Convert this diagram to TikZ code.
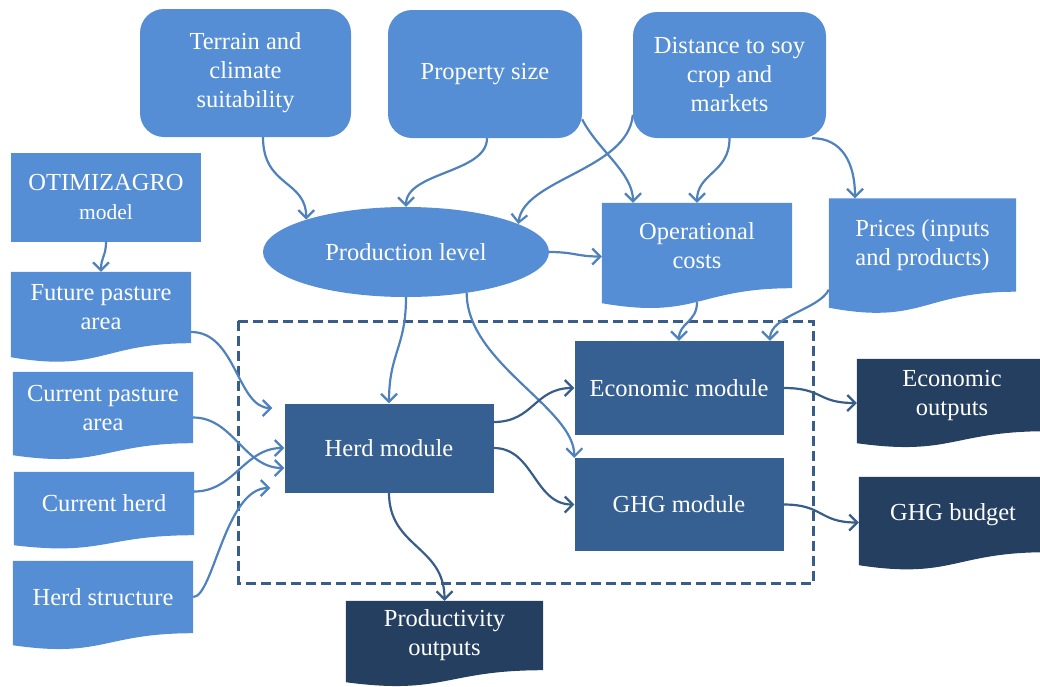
\documentclass[tikz,border=0pt]{standalone}
\usepackage{fontspec}
\setmainfont{Liberation Serif}
\usetikzlibrary{arrows.meta,calc,backgrounds,shapes.geometric}
\definecolor{lightblue}{HTML}{558ED5}
\definecolor{modblue}{HTML}{376092}
\definecolor{darkblue}{HTML}{243F60}
\definecolor{linkblue}{HTML}{4F81BD}
\definecolor{linkdark}{HTML}{385D8A}
% document shape: flat top, wavy bottom, drawn behind the text node
\newcommand{\docshape}[3]{%
  \begin{scope}[on background layer]
    \fill[#2] (#1.north west) -- (#1.north east) -- (#1.south east)
      .. controls (#1.south) and ($(#1.south)+(0,2.1*#3)$) .. ($(#1.south west)+(0,#3)$) -- cycle;
  \end{scope}}

\begin{document}
\begin{tikzpicture}[x=1pt,y=-1pt,
  >={Straight Barb[length=8pt,width=16pt]},
  every node/.style={text=white,align=center,inner sep=0pt,font=\fontsize{24.5}{29}\selectfont},
  topbox/.style={fill=lightblue,rounded corners=24pt},
  inbox/.style={fill=lightblue},
  docbox/.style={fill=none},
  modbox/.style={fill=modblue},
  link/.style={->,draw=linkblue,line width=2.2pt},
  linkd/.style={->,draw=linkdark,line width=2.2pt},
  corebox/.style={draw=linkdark,line width=3pt,dash pattern=on 10pt off 5pt}]
\useasboundingbox (0,0) rectangle (1040,686);
% \draw[help lines,step=50] (0,0) grid (1040,686);
\node (terrain) [topbox,minimum width=211pt,minimum height=128pt] at (245.5,73) {Terrain and\\climate\\suitability};
\node (propsize) [topbox,minimum width=194pt,minimum height=128pt] at (485,74) {Property size};
\node (distance) [topbox,minimum width=193pt,minimum height=126pt] at (729.5,75) {Distance to soy\\crop and\\markets};
%
\node (otimiz) [inbox,minimum width=190pt,minimum height=89pt] at (106,197) {OTIMIZAGRO\\{\fontsize{21.5}{25}\selectfont model}};
\node (future) [docbox,minimum width=180pt,minimum height=71pt] at (101,307.5) {Future pasture\\area};
\node (curpast) [docbox,minimum width=180pt,minimum height=71pt] at (103,407.5) {Current pasture\\area};
\node (curherd) [docbox,minimum width=180pt,minimum height=63pt] at (104,503.5) {Current herd};
\node (herdstruct) [docbox,minimum width=180pt,minimum height=72pt] at (103,597) {Herd structure};
%
\node (prodlevel) [ellipse,fill=lightblue,minimum width=286pt,minimum height=90pt] at (406,252) {Production level};
\node (opcost) [docbox,minimum width=190pt,minimum height=85pt] at (697,245.5) {Operational\\costs};
\node (prices) [docbox,minimum width=187pt,minimum height=93pt] at (922.5,245) {Prices (inputs\\and products)};
%
\node (herd) [modbox,minimum width=209pt,minimum height=89pt] at (389,448) {Herd module};
\node (econ) [modbox,minimum width=209pt,minimum height=94pt] at (679,388) {Economic module};
\node (ghg) [modbox,minimum width=209pt,minimum height=93pt] at (679,504.5) {GHG module};
%
\node (econout) [docbox,minimum width=190pt,minimum height=72pt] at (952,395) {Economic\\outputs};
\node (ghgbudget) [docbox,minimum width=188pt,minimum height=75pt] at (953,514.5) {GHG budget};
\node (prodout) [docbox,minimum width=197pt,minimum height=69pt] at (444.5,635.5) {Productivity\\outputs};
%
\docshape{future}{lightblue}{14}
\docshape{curpast}{lightblue}{12}
\docshape{curherd}{lightblue}{10}
\docshape{herdstruct}{lightblue}{12}
\docshape{opcost}{lightblue}{15}
\docshape{prices}{lightblue}{16}
\docshape{econout}{darkblue}{12}
\docshape{ghgbudget}{darkblue}{13}
\docshape{prodout}{darkblue}{12}
%
\draw[corebox] (238,321) rectangle (813.5,583);
\coordinate (herdin1) at ($(herd.west)+(-12,-40)$);
\coordinate (herdin2) at ($(herd.west)+(-14,40)$);
%
\draw[link] (otimiz.south) .. controls +(0,15) and +(0,-15) .. (future.north);
\draw[link] ([xshift=17.5pt]terrain.south) .. controls +(0,50) and +(0,-40) .. (prodlevel.162);
\draw[link] ([xshift=2pt]propsize.south) .. controls +(0,35) and +(0,-35) .. (prodlevel.north);
\draw[link] ([yshift=-40pt]distance.west) .. controls +(-5,55) and +(5,-45) .. (prodlevel.14);
\draw[link] (propsize.-25) .. controls +(15,30) and +(0,-30) .. ([xshift=-64pt]opcost.north);
\draw[link] (distance.south) .. controls +(0,35) and +(0,-30) .. (opcost.north);
\draw[link] ([xshift=-14pt]distance.south east) .. controls +(30,0) and +(0,-35) .. ([xshift=-67.5pt]prices.north);
\draw[link] (prodlevel.east) .. controls +(25,0) and +(-25,0) .. ([yshift=-11pt]opcost.west);
\draw[link] (prodlevel.south) .. controls +(0,50) and +(0,-50) .. (herd.north);
\draw[link] (prodlevel.-34) .. controls +(0,70) and +(0,-50) .. (ghg.north west);
\draw[link] ([yshift=-14pt]opcost.south) .. controls +(0,20) and +(0,-18) .. (econ.north);
\draw[link] ([yshift=2pt]prices.south west) .. controls +(-10,20) and +(0,-25) .. ([xshift=91pt]econ.north);
\draw[link] ([yshift=-24.5pt]future.east) .. controls +(45,0) and +(-35,0) .. (herdin1);
\draw[link] ([yshift=-10pt]curpast.east) .. controls +(40,0) and +(-40,0) .. ([yshift=-20pt]herd.west);
\draw[link] ([yshift=12pt]curherd.east) .. controls +(40,0) and +(-40,0) .. (herd.west);
\draw[link] (herdstruct.east) .. controls +(20,0) and +(-45,0) .. (herdin2);
%
\draw[linkd] ([yshift=26pt]herd.east) .. controls +(40,0) and +(-40,0) .. (econ.west);
\draw[linkd] (herd.east) .. controls +(40,0) and +(-40,0) .. (ghg.west);
\draw[linkd] (herd.south) .. controls +(0,55) and +(0,-55) .. (prodout.north);
\draw[linkd] (econ.east) .. controls +(40,0) and +(-40,0) .. ([yshift=-8pt]econout.west);
\draw[linkd] (ghg.east) .. controls +(40,0) and +(-40,0) .. ([yshift=-8pt]ghgbudget.west);
\end{tikzpicture}
\end{document}
